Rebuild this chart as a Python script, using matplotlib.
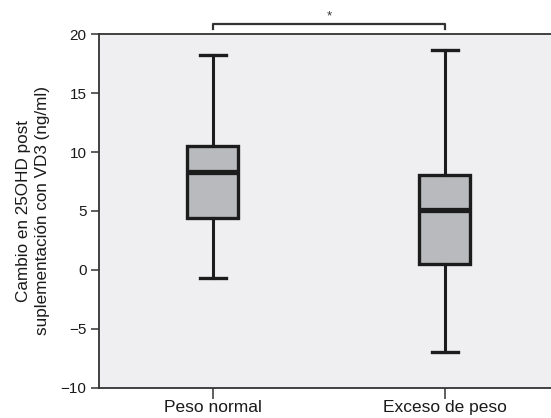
import matplotlib
matplotlib.use("Agg")
import matplotlib.pyplot as plt

plt.rcParams['font.family'] = ['Liberation Sans', 'DejaVu Sans']

categories = ["Peso normal", "Exceso de peso"]
whislo = [-0.65, -7.0]
q1 = [4.4, 0.5]
med = [8.3, 5.1]
q3 = [10.55, 8.07]
whishi = [18.25, 18.68]
yticks = [-10, -5, 0, 5, 10, 15, 20]

stats = [dict(label=c, whislo=a, q1=b, med=m, q3=d, whishi=e, fliers=[])
         for c, a, b, m, d, e in zip(categories, whislo, q1, med, q3, whishi)]

fig = plt.figure(figsize=(5.51, 4.18), dpi=100)
ax = fig.add_axes([0.1797, 0.0725, 0.8203, 0.8455])
ax.set_facecolor('#EFEFF1')

dark = '#1c1c1c'
ax.bxp(stats, positions=[1, 2], widths=0.22, capwidths=0.112, patch_artist=True,
       showfliers=False,
       boxprops=dict(facecolor='#B9BABD', edgecolor=dark, linewidth=2.4),
       medianprops=dict(color=dark, linewidth=3.8),
       whiskerprops=dict(color=dark, linewidth=2.2),
       capprops=dict(color=dark, linewidth=2.4))

ax.set_xlim(0.509, 2.457)
ax.set_ylim(-10, 20)
ax.set_yticks(yticks)
ax.set_yticklabels([str(t).replace('-', '\u2212') for t in yticks])
ax.set_xticks([1, 2])
ax.set_xticklabels(categories)

for s in ['left', 'bottom', 'top']:
    ax.spines[s].set_color('#333333')
    ax.spines[s].set_linewidth(1.3)
ax.spines['right'].set_visible(False)
ax.tick_params(axis='y', direction='out', length=6, width=1.1, colors='#333333',
               labelcolor='#1a1a1a', labelsize=11, pad=3)
ax.tick_params(axis='x', direction='out', length=8, width=1.1, colors='#333333',
               labelcolor='#1a1a1a', labelsize=12.5, pad=1)

ax.set_ylabel("Cambio en 25OHD post\nsuplementación con VD3 (ng/ml)",
              fontsize=12.3, color='#1a1a1a', labelpad=8, linespacing=1.3)

# significance bracket
ax.plot([1, 1, 2, 2], [20.45, 20.85, 20.85, 20.45], color='#333333', lw=1.6,
        clip_on=False)
ax.text(1.5, 21.0, "*", ha='center', va='bottom', fontsize=9.5, color='#333333')

fig.savefig("out.png", dpi=100)
